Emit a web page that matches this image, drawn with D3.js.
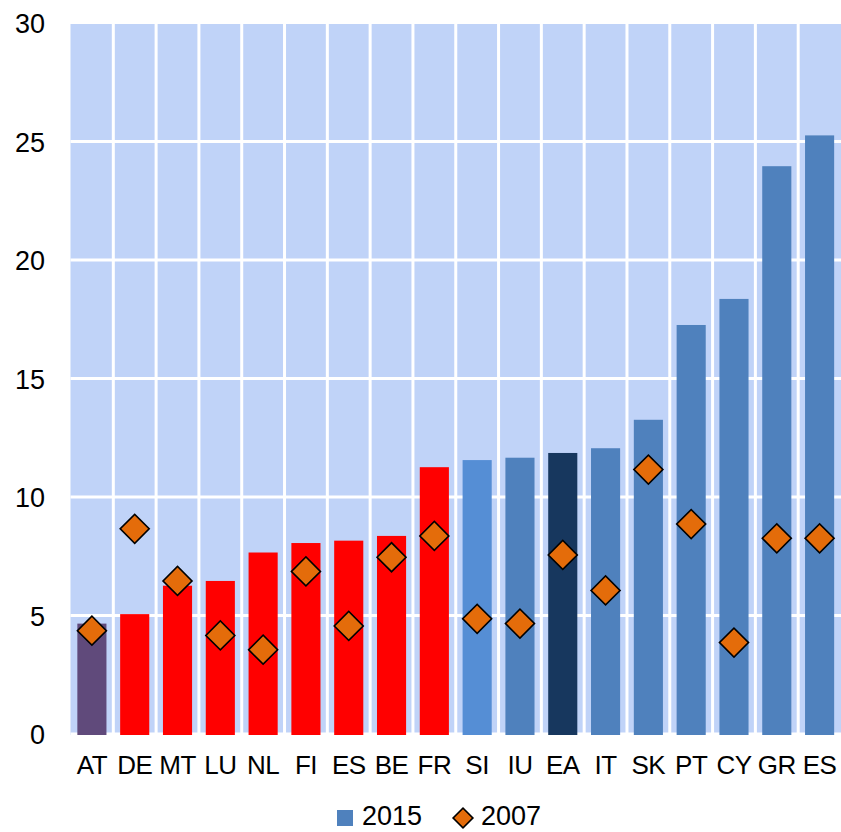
<!DOCTYPE html>
<html><head><meta charset="utf-8">
<script src="https://cdn.jsdelivr.net/npm/d3@7/dist/d3.min.js"></script>
<style>body{margin:0;background:#fff;} text{font-family:"Liberation Sans",Arial,sans-serif;}</style>
</head><body><svg id="c" width="841" height="832"></svg>
<script>
const categories = ["AT","DE","MT","LU","NL","FI","ES","BE","FR","SI","IU","EA","IT","SK","PT","CY","GR","ES"];
const values2015 = [4.7,5.1,6.3,6.5,7.7,8.1,8.2,8.4,11.3,11.6,11.7,11.9,12.1,13.3,17.3,18.4,24.0,25.3];
const values2007 = [4.4,8.7,6.5,4.2,3.6,6.9,4.6,7.5,8.4,4.9,4.7,7.6,6.1,11.2,8.9,3.9,8.3,8.3];
const barColors = ["#604A7B","#FF0000","#FF0000","#FF0000","#FF0000","#FF0000","#FF0000","#FF0000","#FF0000","#558ED5","#4F81BD","#17375E","#4F81BD","#4F81BD","#4F81BD","#4F81BD","#4F81BD","#4F81BD"];
const yTicks = [0,5,10,15,20,25,30];
const legendLabels = ["2015","2007"];

(function(){
const svg = d3.select("#c");
const pL = 70.5, pR = 841, pT = 24, pB = 735;
const idx = categories.map((d,i)=>i);
const x = d3.scaleBand().domain(idx).range([pL,pR]).paddingInner(0.32).paddingOuter(0.16);
const xb = d3.scaleBand().domain(idx).range([pL,pR]);
const y = d3.scaleLinear().domain([0,30]).range([pB,pT]);

svg.append("rect").attr("x",pL).attr("y",pT).attr("width",pR-pL).attr("height",pB-pT).attr("fill","#C0D3F8");
svg.append("g").selectAll("line").data(idx.slice(1)).join("line")
  .attr("x1",d=>xb(d)).attr("x2",d=>xb(d)).attr("y1",pT).attr("y2",pB)
  .attr("stroke","#fff").attr("stroke-width",3);
svg.append("g").selectAll("line").data(yTicks.slice(0,-1)).join("line")
  .attr("x1",pL).attr("x2",pR).attr("y1",d=>y(d)-1).attr("y2",d=>y(d)-1)
  .attr("stroke","#fff").attr("stroke-width",3);

svg.append("g").selectAll("rect").data(values2015).join("rect")
  .attr("x",(d,i)=>x(i)).attr("width",x.bandwidth())
  .attr("y",d=>y(d)).attr("height",d=>pB-y(d))
  .attr("fill",(d,i)=>barColors[i]);

const diamond = d3.symbol().type(d3.symbolSquare).size(20.5*20.5);
svg.append("g").selectAll("path").data(values2007).join("path")
  .attr("d",diamond)
  .attr("transform",(d,i)=>`translate(${x(i)+x.bandwidth()/2},${y(d)}) rotate(45)`)
  .attr("fill","#E46C0A").attr("stroke","#000").attr("stroke-width",1.6);

const yAxis = d3.axisLeft(y).tickValues(yTicks).tickSize(0).tickPadding(0);
const yg = svg.append("g").attr("transform","translate(45,0)").call(yAxis);
yg.select(".domain").remove();
yg.selectAll("text").attr("font-size",27).attr("fill","#000").attr("font-family","Liberation Sans, Arial, sans-serif");

const xAxis = d3.axisBottom(x).tickFormat(i=>categories[i]).tickSize(0).tickPadding(0);
const xg = svg.append("g").attr("transform","translate(0,756)").call(xAxis);
xg.select(".domain").remove();
xg.selectAll("text").attr("font-size",26).attr("fill","#000").attr("font-family","Liberation Sans, Arial, sans-serif").attr("letter-spacing","-0.5");

const lg = svg.append("g");
lg.append("rect").attr("x",337).attr("y",810).attr("width",16).attr("height",16).attr("fill","#4F81BD");
lg.append("text").attr("x",362).attr("y",825).attr("font-size",27).text(legendLabels[0]);
lg.append("path").attr("d",d3.symbol().type(d3.symbolSquare).size(14*14)).attr("transform","translate(463,818) rotate(45)")
  .attr("fill","#E46C0A").attr("stroke","#000").attr("stroke-width",1.6);
lg.append("text").attr("x",481).attr("y",825).attr("font-size",27).text(legendLabels[1]);
})();
</script></body></html>
